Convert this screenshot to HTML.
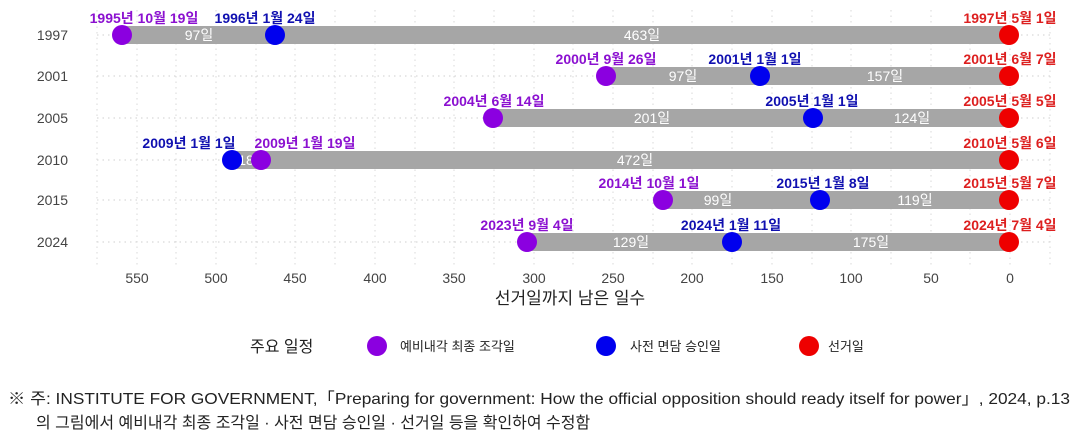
<!DOCTYPE html>
<html><head><meta charset="utf-8"><style>
body{margin:0;background:#fff;}
svg text{font-family:"Liberation Sans","Noto Sans CJK KR",sans-serif;}
</style></head><body>
<svg width="1078" height="440" xmlns="http://www.w3.org/2000/svg">
<g stroke="#cfcfcf" stroke-dasharray="1.5,4" stroke-width="1">
<line x1="97" y1="35" x2="1050" y2="35"/><line x1="97" y1="76" x2="1050" y2="76"/><line x1="97" y1="118" x2="1050" y2="118"/><line x1="97" y1="160" x2="1050" y2="160"/><line x1="97" y1="200" x2="1050" y2="200"/><line x1="97" y1="242" x2="1050" y2="242"/>
</g>
<g stroke="#d8d8d8" stroke-dasharray="1.5,4">
<line x1="137" y1="10" x2="137" y2="268"/><line x1="176" y1="10" x2="176" y2="268"/><line x1="216" y1="10" x2="216" y2="268"/><line x1="256" y1="10" x2="256" y2="268"/><line x1="295" y1="10" x2="295" y2="268"/><line x1="335" y1="10" x2="335" y2="268"/><line x1="375" y1="10" x2="375" y2="268"/><line x1="415" y1="10" x2="415" y2="268"/><line x1="454" y1="10" x2="454" y2="268"/><line x1="494" y1="10" x2="494" y2="268"/><line x1="534" y1="10" x2="534" y2="268"/><line x1="573" y1="10" x2="573" y2="268"/><line x1="613" y1="10" x2="613" y2="268"/><line x1="653" y1="10" x2="653" y2="268"/><line x1="692" y1="10" x2="692" y2="268"/><line x1="732" y1="10" x2="732" y2="268"/><line x1="772" y1="10" x2="772" y2="268"/><line x1="812" y1="10" x2="812" y2="268"/><line x1="851" y1="10" x2="851" y2="268"/><line x1="891" y1="10" x2="891" y2="268"/><line x1="931" y1="10" x2="931" y2="268"/><line x1="970" y1="10" x2="970" y2="268"/><line x1="1010" y1="10" x2="1010" y2="268"/><line x1="1050" y1="10" x2="1050" y2="268"/><line x1="97" y1="10" x2="97" y2="268"/>
</g>
<g font-size="14" fill="#444" text-anchor="end">
<text x="68" y="40">1997</text><text x="68" y="81">2001</text><text x="68" y="123">2005</text><text x="68" y="165">2010</text><text x="68" y="205">2015</text><text x="68" y="247">2024</text>
</g>
<g font-size="14" fill="#444" text-anchor="middle">
<text x="137" y="283">550</text><text x="216" y="283">500</text><text x="295" y="283">450</text><text x="375" y="283">400</text><text x="454" y="283">350</text><text x="534" y="283">300</text><text x="613" y="283">250</text><text x="692" y="283">200</text><text x="772" y="283">150</text><text x="851" y="283">100</text><text x="931" y="283">50</text><text x="1010" y="283">0</text>
</g>
<text x="570" y="304" font-size="17" fill="#222" text-anchor="middle">선거일까지 남은 일수</text>
<g fill="#a6a6a6">
<rect x="122" y="26" width="888" height="18"/><rect x="606" y="67" width="404" height="18"/><rect x="493" y="109" width="517" height="18"/><rect x="231" y="151" width="779" height="18"/><rect x="663" y="191" width="347" height="18"/><rect x="527" y="233" width="483" height="18"/>
</g>
<g fill="#fff" font-size="14" text-anchor="middle">
<text x="199" y="40">97일</text><text x="642" y="40">463일</text>
<text x="683" y="81">97일</text><text x="885" y="81">157일</text>
<text x="652" y="123">201일</text><text x="912" y="123">124일</text>
<text x="246" y="165">18</text><text x="635" y="165">472일</text>
<text x="718" y="205">99일</text><text x="915" y="205">119일</text>
<text x="631" y="247">129일</text><text x="871" y="247">175일</text>
</g>
<g>
<circle cx="122" cy="35" r="10" fill="#8b00e0"/><circle cx="275" cy="35" r="10" fill="#0000ee"/><circle cx="1009" cy="35" r="10" fill="#ee0000"/>
<circle cx="606" cy="76" r="10" fill="#8b00e0"/><circle cx="760" cy="76" r="10" fill="#0000ee"/><circle cx="1009" cy="76" r="10" fill="#ee0000"/>
<circle cx="493" cy="118" r="10" fill="#8b00e0"/><circle cx="813" cy="118" r="10" fill="#0000ee"/><circle cx="1009" cy="118" r="10" fill="#ee0000"/>
<circle cx="232" cy="160" r="10" fill="#0000ee"/><circle cx="261" cy="160" r="10" fill="#8b00e0"/><circle cx="1009" cy="160" r="10" fill="#ee0000"/>
<circle cx="663" cy="200" r="10" fill="#8b00e0"/><circle cx="820" cy="200" r="10" fill="#0000ee"/><circle cx="1009" cy="200" r="10" fill="#ee0000"/>
<circle cx="527" cy="242" r="10" fill="#8b00e0"/><circle cx="732" cy="242" r="10" fill="#0000ee"/><circle cx="1009" cy="242" r="10" fill="#ee0000"/>
</g>
<g font-size="14" font-weight="bold" text-anchor="middle">
<text x="144" y="23" fill="#8b10d0">1995년 10월 19일</text><text x="265" y="23" fill="#1010b0">1996년 1월 24일</text><text x="1010" y="23" fill="#dd1f1f">1997년 5월 1일</text>
<text x="606" y="64" fill="#8b10d0">2000년 9월 26일</text><text x="755" y="64" fill="#1010b0">2001년 1월 1일</text><text x="1010" y="64" fill="#dd1f1f">2001년 6월 7일</text>
<text x="494" y="106" fill="#8b10d0">2004년 6월 14일</text><text x="812" y="106" fill="#1010b0">2005년 1월 1일</text><text x="1010" y="106" fill="#dd1f1f">2005년 5월 5일</text>
<text x="189" y="148" fill="#1010b0">2009년 1월 1일</text><text x="305" y="148" fill="#8b10d0">2009년 1월 19일</text><text x="1010" y="148" fill="#dd1f1f">2010년 5월 6일</text>
<text x="649" y="188" fill="#8b10d0">2014년 10월 1일</text><text x="823" y="188" fill="#1010b0">2015년 1월 8일</text><text x="1010" y="188" fill="#dd1f1f">2015년 5월 7일</text>
<text x="527" y="230" fill="#8b10d0">2023년 9월 4일</text><text x="731" y="230" fill="#1010b0">2024년 1월 11일</text><text x="1010" y="230" fill="#dd1f1f">2024년 7월 4일</text>
</g>
<text x="250" y="352" font-size="16" fill="#222">주요 일정</text>
<circle cx="377" cy="346" r="10" fill="#8b00e0"/><text x="400" y="351" font-size="13" fill="#222">예비내각 최종 조각일</text>
<circle cx="606" cy="346" r="10" fill="#0000ee"/><text x="630" y="351" font-size="13" fill="#222">사전 면담 승인일</text>
<circle cx="809" cy="346" r="10" fill="#ee0000"/><text x="828" y="351" font-size="13" fill="#222">선거일</text>
<text x="8" y="404" font-size="16" fill="#222" textLength="1062" lengthAdjust="spacingAndGlyphs">※ 주:  INSTITUTE FOR GOVERNMENT,「Preparing for government: How the official opposition should ready itself for power」, 2024, p.13</text>
<text x="36" y="428" font-size="16" fill="#222">의 그림에서 예비내각 최종 조각일 · 사전 면담 승인일 · 선거일 등을 확인하여 수정함</text>
</svg>
</body></html>
